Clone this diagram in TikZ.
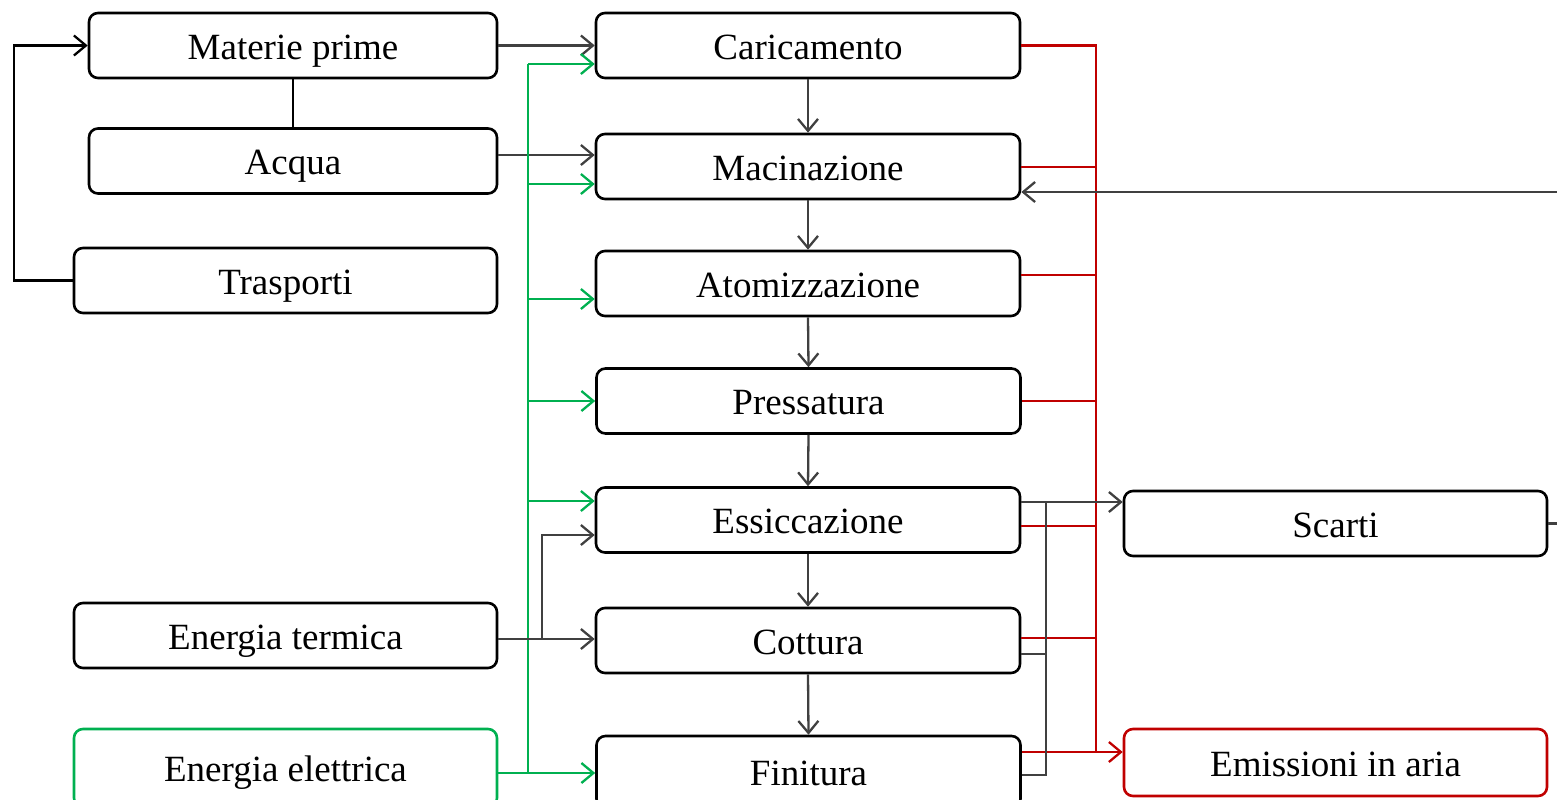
\documentclass[tikz,border=0pt]{standalone}
\usepackage{fontspec}
\setmainfont{Liberation Serif}
\usetikzlibrary{arrows.meta}
\definecolor{verde}{RGB}{0,176,80}
\definecolor{rosso}{RGB}{192,0,0}
\definecolor{grigio}{RGB}{64,64,64}

\begin{document}
\begin{tikzpicture}[x=0.5pt,y=-0.5pt,
  box/.style={draw,line width=1.3pt,rounded corners=4.5pt,minimum height=32.5pt,inner sep=0pt,
    text height=13.5pt,text depth=0pt,font=\fontsize{18.5}{22}\selectfont},
  fr/.style={-{Straight Barb[length=6pt,width=10pt]},line width=1.15pt},
  ln/.style={line width=1.15pt}]
\useasboundingbox (0,0) rectangle (1557,799);
\clip (0,0) rectangle (1557,799);

\node[box,minimum width=204pt] (mp) at (293,45.5){Materie prime};
\node[box,minimum width=204pt] (aq) at (293,161){Acqua};
\node[box,minimum width=211.5pt] (tr) at (285.5,280.5){Trasporti};
\node[box,minimum width=211.5pt] (et) at (285.5,635.5){Energia termica};
\node[box,minimum width=211.5pt,minimum height=39pt,draw=verde] (ee) at (285.5,768){Energia elettrica};

\node[box,minimum width=212pt] (ca) at (808,45.5){Caricamento};
\node[box,minimum width=212pt] (ma) at (808,166.5){Macinazione};
\node[box,minimum width=212pt] (at) at (808,283.5){Atomizzazione};
\node[box,minimum width=212pt] (pr) at (808.5,401){Pressatura};
\node[box,minimum width=212pt] (es) at (808,520){Essiccazione};
\node[box,minimum width=212pt] (co) at (808,640.5){Cottura};
\node[box,minimum width=212pt,minimum height=36pt] (fi) at (808.5,772){Finitura};

\node[box,minimum width=211.5pt] (sc) at (1335.5,523.5){Scarti};
\node[box,minimum width=211.5pt,minimum height=33.5pt,draw=rosso] (em) at (1335.5,762.5){Emissioni in aria};

\draw[fr] (tr.west) -- (14,280.5) |- (mp.west);
\draw[ln] (mp.south) -- (aq.north);
\draw[fr,grigio] (mp.east) -- (ca.west);
\draw[fr,grigio] (aq.east |- 0,155) -- (ma.west |- 0,155);

\draw[ln,verde] (528,773) -- (528,64);
\foreach \n/\y in {ca/64,ma/184,at/299,pr/401,es/501}{
    \draw[fr,verde] (528,\y) -- (\n.west |- 0,\y);
}
\draw[fr,verde] (ee.east |- 0,773) -- (fi.west |- 0,773);

\draw[fr,grigio] (et.east |- 0,639) -- (co.west |- 0,639);
\draw[fr,grigio] (542,639) |- (es.west |- 0,535);

\foreach \a/\b in {ca/ma,ma/at,at/pr,pr/es,es/co,co/fi}{
    \draw[fr,grigio] (\a.south) -- (\b.north);
}

\draw[ln,rosso] (ca.east) -| (1096,752);
\foreach \n/\y in {ma/167,at/275,pr/401,es/526,co/638}{
    \draw[ln,rosso] (\n.east |- 0,\y) -- (1096,\y);
}
\draw[fr,rosso] (fi.east |- 0,752) -- (em.west |- 0,752);

\draw[fr,grigio] (es.east |- 0,502) -- (sc.west |- 0,502);
\draw[ln,grigio] (co.east |- 0,654) -| (1046,502);
\draw[ln,grigio] (fi.east |- 0,775) -| (1046,502);
\draw[fr,grigio] (sc.east) -- (1610,523.5) |- (ma.east |- 0,192);
\end{tikzpicture}
\end{document}
